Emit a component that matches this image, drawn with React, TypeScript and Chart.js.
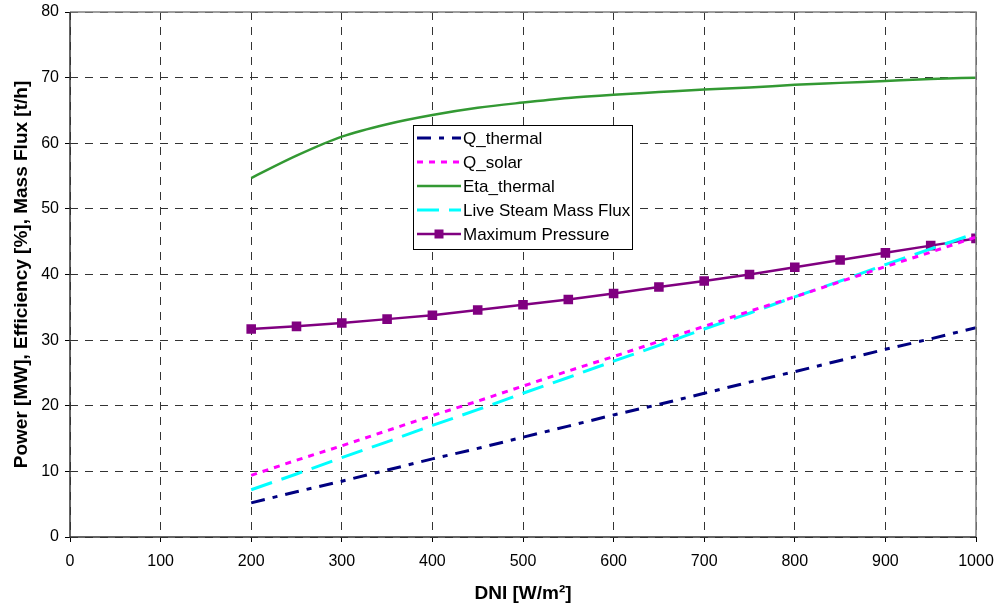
import React, { useEffect, useRef } from "react";
import { Chart, registerables } from "chart.js";

Chart.register(...registerables);

const dni = [200, 250, 300, 350, 400, 450, 500, 550, 600, 650, 700, 750, 800, 850, 900, 950, 1000];
const qThermal = [5.2, 6.9, 8.5, 10.2, 11.9, 13.5, 15.2, 16.9, 18.6, 20.2, 21.9, 23.6, 25.2, 26.9, 28.6, 30.2, 31.9];
const qSolar = [9.4, 11.7, 13.9, 16.2, 18.5, 20.7, 23.0, 25.3, 27.5, 29.8, 32.1, 34.4, 36.6, 38.9, 41.2, 43.4, 45.7];
const etaThermal = [54.7, 58.1, 61.0, 62.9, 64.3, 65.4, 66.2, 66.9, 67.4, 67.8, 68.2, 68.5, 68.9, 69.2, 69.5, 69.8, 70.0];
const massFlux = [7.2, 9.6, 12.1, 14.5, 17.0, 19.4, 21.9, 24.3, 26.8, 29.2, 31.7, 34.1, 36.6, 39.0, 41.5, 43.9, 46.3];
const maxPressure = [31.7, 32.1, 32.6, 33.2, 33.8, 34.6, 35.4, 36.2, 37.1, 38.1, 39.0, 40.0, 41.1, 42.2, 43.3, 44.4, 45.5];

const xTicks = [0, 100, 200, 300, 400, 500, 600, 700, 800, 900, 1000];
const yTicks = [0, 10, 20, 30, 40, 50, 60, 70, 80];

const seriesNames = ["Q_thermal", "Q_solar", "Eta_thermal", "Live Steam Mass Flux", "Maximum Pressure"];

const FONT = "'Liberation Sans', Arial, sans-serif";

const pts = (ys: number[]) => dni.map((x, i) => ({ x, y: ys[i] }));

const frameAndLegend = {
  id: "frameAndLegend",
  afterDatasetsDraw(chart: any) {
    const { ctx, chartArea } = chart;
    ctx.save();
    ctx.setLineDash([]);
    ctx.strokeStyle = "#808080";
    ctx.lineWidth = 1.5;
    ctx.beginPath();
    ctx.moveTo(chartArea.left, chartArea.top);
    ctx.lineTo(chartArea.right, chartArea.top);
    ctx.lineTo(chartArea.right, chartArea.bottom);
    ctx.stroke();
    ctx.strokeStyle = "#333333";
    ctx.lineWidth = 1.5;
    ctx.beginPath();
    ctx.moveTo(chartArea.left, chartArea.top);
    ctx.lineTo(chartArea.left, chartArea.bottom);
    ctx.lineTo(chartArea.right, chartArea.bottom);
    ctx.stroke();
    ctx.restore();
  },
  afterDraw(chart: any) {
    const { ctx } = chart;
    const bx = 413, by = 125, bw = 219, bh = 124;
    ctx.save();
    ctx.fillStyle = "#ffffff";
    ctx.fillRect(bx, by, bw, bh);
    ctx.strokeStyle = "#000000";
    ctx.lineWidth = 1;
    ctx.setLineDash([]);
    ctx.strokeRect(bx + 0.5, by + 0.5, bw, bh);
    chart.data.datasets.forEach((ds: any, i: number) => {
      const yy = by + 13 + i * 24;
      ctx.strokeStyle = ds.borderColor;
      ctx.lineWidth = ds.borderWidth;
      ctx.setLineDash(ds.borderDash || []);
      ctx.beginPath();
      ctx.moveTo(bx + 4, yy);
      ctx.lineTo(bx + 48, yy);
      ctx.stroke();
      ctx.setLineDash([]);
      if (ds.pointRadius > 0) {
        ctx.fillStyle = ds.borderColor;
        ctx.fillRect(bx + 26 - 4.5, yy - 4.5, 9, 9);
      }
      ctx.fillStyle = "#000000";
      ctx.font = `17px ${FONT}`;
      ctx.textBaseline = "middle";
      ctx.textAlign = "left";
      ctx.fillText(ds.label, bx + 50, yy + 1);
    });
    ctx.restore();
  },
};

export default function App() {
  const ref = useRef<HTMLCanvasElement | null>(null);
  useEffect(() => {
    if (!ref.current) return;
    const chart = new Chart(ref.current, {
      type: "line",
      data: {
        datasets: [
          {
            label: seriesNames[0],
            data: pts(qThermal),
            borderColor: "#000080",
            backgroundColor: "#000080",
            borderWidth: 3,
            borderDash: [14, 8, 5, 8],
            pointRadius: 0,
          },
          {
            label: seriesNames[1],
            data: pts(qSolar),
            borderColor: "#FF00FF",
            backgroundColor: "#FF00FF",
            borderWidth: 3,
            borderDash: [6, 6],
            pointRadius: 0,
          },
          {
            label: seriesNames[2],
            data: pts(etaThermal),
            borderColor: "#339933",
            backgroundColor: "#339933",
            borderWidth: 2.5,
            pointRadius: 0,
            cubicInterpolationMode: "monotone",
          },
          {
            label: seriesNames[3],
            data: pts(massFlux),
            borderColor: "#00FFFF",
            backgroundColor: "#00FFFF",
            borderWidth: 3,
            borderDash: [22, 10],
            pointRadius: 0,
          },
          {
            label: seriesNames[4],
            data: pts(maxPressure),
            borderColor: "#800080",
            backgroundColor: "#800080",
            borderWidth: 2.5,
            pointStyle: "rect",
            pointRadius: 5,
            pointHoverRadius: 5,
          },
        ] as any,
      },
      options: {
        animation: false,
        responsive: false,
        maintainAspectRatio: false,
        layout: { padding: { left: 0, top: 12, right: 22, bottom: 0 } },
        plugins: { legend: { display: false }, tooltip: { enabled: false } },
        scales: {
          x: {
            type: "linear",
            min: 0,
            max: 1000,
            afterFit: (s: any) => {
              s.height = 72;
              s.paddingLeft = 0;
              s.paddingRight = 0;
            },
            afterBuildTicks: (s: any) => { s.ticks = xTicks.map((v) => ({ value: v })); },
            ticks: {
              color: "#000",
              font: { family: FONT, size: 16 },
              padding: 10,
              maxRotation: 0,
              callback: (v: any) => String(v),
            },
            grid: { color: "#333", lineWidth: 1, tickLength: 5, tickBorderDash: [10, 0], tickColor: "#000" },
            border: { display: false, dash: [8, 7] },
            title: {
              display: true,
              text: "DNI [W/m²]",
              color: "#000",
              font: { family: FONT, size: 19, weight: "bold" },
              padding: { top: 4, bottom: 4 },
            },
          },
          y: {
            type: "linear",
            min: 0,
            max: 80,
            afterFit: (s: any) => {
              s.width = 70;
              s.paddingTop = 0;
              s.paddingBottom = 0;
            },
            afterBuildTicks: (s: any) => { s.ticks = yTicks.map((v) => ({ value: v })); },
            ticks: { color: "#000", font: { family: FONT, size: 16 }, padding: 6, callback: (v: any) => String(v) },
            grid: { color: "#333", lineWidth: 1, tickLength: 5, tickBorderDash: [10, 0], tickColor: "#000" },
            border: { display: false, dash: [8, 7] },
            title: {
              display: true,
              text: "Power [MW], Efficiency [%], Mass Flux [t/h]",
              color: "#000",
              font: { family: FONT, size: 19, weight: "bold" },
              padding: { top: 10, bottom: 0 },
            },
          },
        },
      } as any,
      plugins: [frameAndLegend],
    });
    return () => chart.destroy();
  }, []);
  return (
    <div style={{ position: "absolute", left: 0, top: 0, width: 998, height: 609, background: "#fff" }}>
      <canvas ref={ref} width={998} height={609} style={{ display: "block" }} />
    </div>
  );
}
